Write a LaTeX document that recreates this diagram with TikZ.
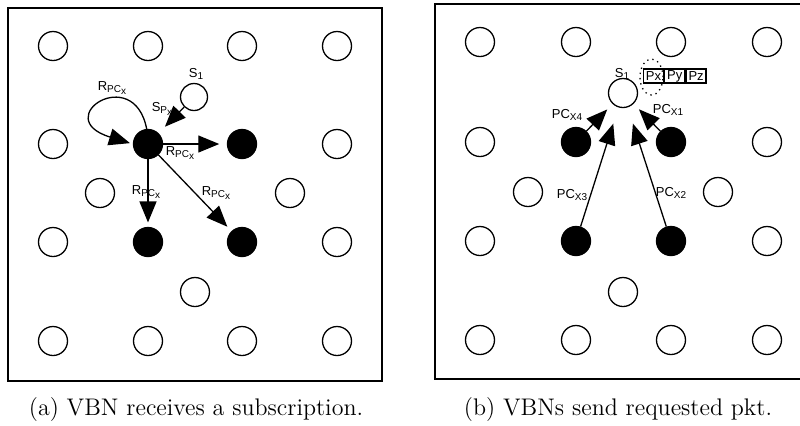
\documentclass[tikz,border=0pt]{standalone}
\usepackage{fontspec}
\setsansfont{Liberation Sans}
\usepackage{tikz}
\usetikzlibrary{arrows.meta}
\usetikzlibrary{positioning}
\newcommand{\lowtxt}[1]{\raisebox{-0.35ex}{\fontsize{5}{5}\selectfont #1}}

\begin{document}
\begin{tikzpicture}[x=0.5pt,y=-0.5pt,
    vnode/.style={circle,draw,line width=0.65pt,minimum size=14.5pt,inner sep=0pt},
    vbn/.style={vnode,fill=black},
    subnode/.style={vnode,minimum size=13.5pt},
    lbl/.style={font=\fontsize{6.5}{7}\selectfont\sffamily,inner sep=0pt},
    pkt/.style={lbl,draw,line width=0.65pt,minimum width=10pt,minimum height=7pt},
    arr/.style={line width=0.65pt,-{Triangle[length=10.5pt,width=8.5pt]}},
    caption/.style={font=\large,inner sep=0pt}]
    \useasboundingbox (0,0) rectangle (800,425);

    \draw[line width=0.65pt] (8,8) rectangle (382,381);
    \node[vnode] (l11) at (53,46) {};
    \node[vnode] (l12) at (148,46) {};
    \node[vnode] (l13) at (242,46) {};
    \node[vnode] (l14) at (337,46) {};
    \node[vnode] (l21) at (53,144) {};
    \node[vbn] (l22) at (148,144) {};
    \node[vbn] (l23) at (242,144) {};
    \node[vnode] (l24) at (337,144) {};
    \node[vnode] (lm1) at (100,193) {};
    \node[vnode] (lm2) at (290,193) {};
    \node[vnode] (l31) at (53,242) {};
    \node[vbn] (l32) at (148,242) {};
    \node[vbn] (l33) at (242,242) {};
    \node[vnode] (l34) at (337,242) {};
    \node[vnode] (lm3) at (195,292) {};
    \node[vnode] (l41) at (53,341) {};
    \node[vnode] (l42) at (148,341) {};
    \node[vnode] (l43) at (242,341) {};
    \node[vnode] (l44) at (337,341) {};
    \node[subnode] (ls) at (194,97) {};

    \node[lbl] (lsname) at (196,74) {S\lowtxt{1}};
    \node[lbl] (lsub) at (162,109) {S\lowtxt{P\lowtxt{x}}};
    \node[lbl] (lloop) at (112,88) {R\lowtxt{PC\lowtxt{x}}};
    \node[lbl] (lright) at (180,153) {R\lowtxt{PC\lowtxt{x}}};
    \node[lbl] (ldown) at (146,192) {R\lowtxt{PC\lowtxt{x}}};
    \node[lbl] (ldiag) at (216,193) {R\lowtxt{PC\lowtxt{x}}};

    \draw[arr,shorten >=4.5pt] (ls) -- (l22);
    \draw[arr,shorten >=1.5pt] (l22.95) to[out=101,in=163,out distance=34pt,in distance=44pt] (l22.west);
    \draw[arr,shorten >=3.8pt] (l22) -- (l23);
    \draw[arr,shorten >=2.2pt] (l22) -- (l32);
    \draw[arr,shorten >=3pt] (l22) -- (l33);

    \node[caption] (capa) at (196,410) {(a) VBN receives a subscription.};

    \draw[line width=0.65pt] (801,4) -- (435,4) -- (435,379) -- (801,379);
    \node[vnode] (r11) at (480,42) {};
    \node[vnode] (r12) at (576,42) {};
    \node[vnode] (r13) at (671,42) {};
    \node[vnode] (r14) at (767,42) {};
    \node[vnode] (r21) at (480,142) {};
    \node[vbn] (r22) at (576,142) {};
    \node[vbn] (r23) at (671,142) {};
    \node[vnode] (r24) at (767,142) {};
    \node[vnode] (rm1) at (528,192) {};
    \node[vnode] (rm2) at (718,192) {};
    \node[vnode] (r31) at (480,241) {};
    \node[vbn] (r32) at (576,241) {};
    \node[vbn] (r33) at (671,241) {};
    \node[vnode] (r34) at (767,241) {};
    \node[vnode] (rm3) at (623,292) {};
    \node[vnode] (r41) at (480,340) {};
    \node[vnode] (r42) at (576,340) {};
    \node[vnode] (r43) at (671,340) {};
    \node[vnode] (r44) at (767,340) {};
    \node[vnode] (rs) at (623,93) {};

    \node[lbl] (rsname) at (622,74) {S\lowtxt{1}};
    \node[pkt] (px) at (653.5,76) {Px};
    \node[pkt,right=0pt of px] (py) {Py};
    \node[pkt,right=0pt of py] (pz) {Pz};
    \draw[line width=0.65pt,dotted] (651.5,77) ellipse (5.75pt and 9pt);

    \node[lbl] (pc4) at (567,115) {PC\lowtxt{X4}};
    \node[lbl] (pc1) at (668,110) {PC\lowtxt{X1}};
    \node[lbl] (pc3) at (572,195) {PC\lowtxt{X3}};
    \node[lbl] (pc2) at (671,193) {PC\lowtxt{X2}};

    \draw[arr,shorten >=3.8pt] (r22) -- (rs);
    \draw[arr,shorten >=3.8pt] (r23) -- (rs);
    \draw[arr,shorten >=8.5pt] (r32) -- (rs);
    \draw[arr,shorten >=8.5pt] (r33) -- (rs);

    \node[caption] (capb) at (618,410) {(b) VBNs send requested pkt.};
\end{tikzpicture}
\end{document}
